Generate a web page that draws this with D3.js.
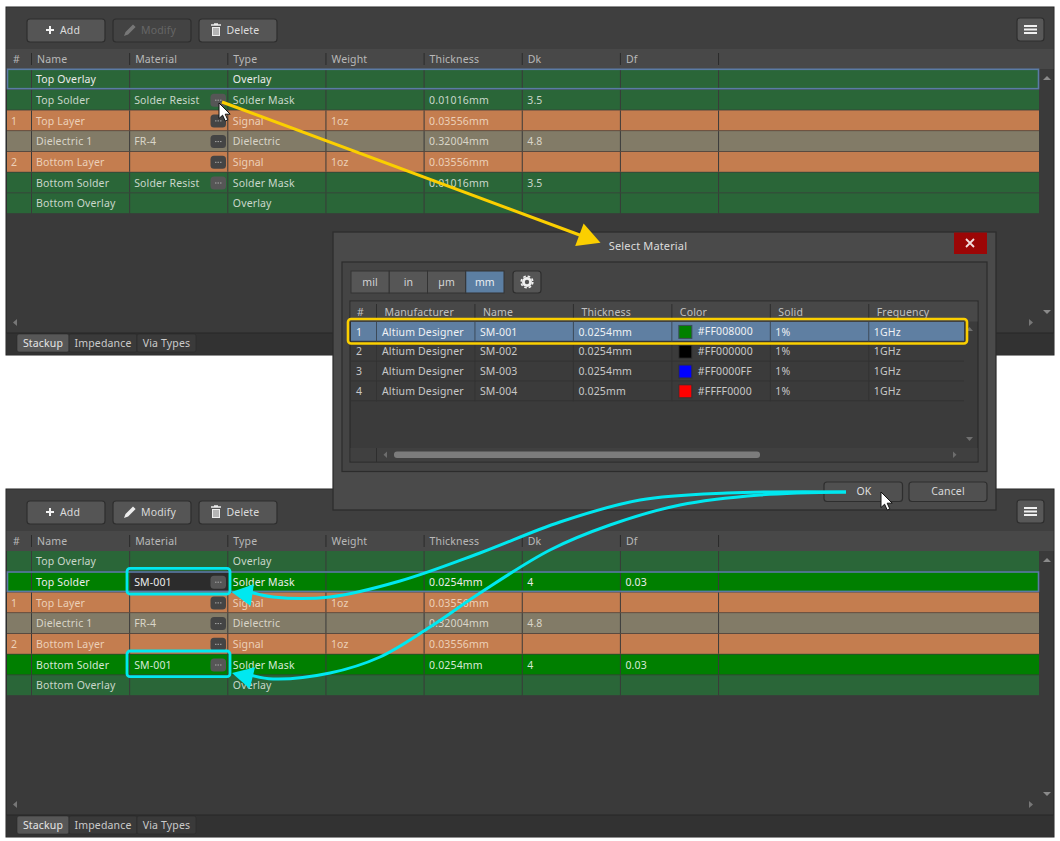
<!DOCTYPE html>
<html>
<head>
<meta charset="utf-8">
<script src="https://cdn.jsdelivr.net/npm/d3@7"></script>
<style>
  html, body { margin: 0; padding: 0; background: #fff; }
  svg { display: block; }
  text { font-family: "Noto Sans", "Open Sans", sans-serif; font-size: 10.5px; letter-spacing: 0.15px; }
</style>
</head>
<body>
<script>
var stackColumns = ['Name', 'Material', 'Type', 'Weight', 'Thickness', 'Dk', 'Df', ''];
var layerIndex = ['', '', '1', '', '2', '', ''];
var layerNames = ['Top Overlay', 'Top Solder', 'Top Layer', 'Dielectric 1', 'Bottom Layer', 'Bottom Solder', 'Bottom Overlay'];
var layerTypes = ['Overlay', 'Solder Mask', 'Signal', 'Dielectric', 'Signal', 'Solder Mask', 'Overlay'];
var layerWeights = ['', '', '1oz', '', '1oz', '', ''];

var materialBefore = ['', 'Solder Resist', '', 'FR-4', '', 'Solder Resist', ''];
var thicknessBefore = ['', '0.01016mm', '0.03556mm', '0.32004mm', '0.03556mm', '0.01016mm', ''];
var dkBefore = ['', '3.5', '', '4.8', '', '3.5', ''];
var dfBefore = ['', '', '', '', '', '', ''];

var materialAfter = ['', 'SM-001', '', 'FR-4', '', 'SM-001', ''];
var thicknessAfter = ['', '0.0254mm', '0.03556mm', '0.32004mm', '0.03556mm', '0.0254mm', ''];
var dkAfter = ['', '4', '', '4.8', '', '4', ''];
var dfAfter = ['', '0.03', '', '', '', '0.03', ''];

var unitButtons = ['mil', 'in', 'µm', 'mm'];
var tabNames = ['Stackup', 'Impedance', 'Via Types'];

var dialogColumns = ['Manufacturer', 'Name', 'Thickness', 'Color', 'Solid', 'Frequency'];
var smIndex = ['1', '2', '3', '4'];
var smMaker = ['Altium Designer', 'Altium Designer', 'Altium Designer', 'Altium Designer'];
var smNames = ['SM-001', 'SM-002', 'SM-003', 'SM-004'];
var smThickness = ['0.0254mm', '0.0254mm', '0.0254mm', '0.025mm'];
var smColors = ['#FF008000', '#FF000000', '#FF0000FF', '#FFFF0000'];
var smSolid = ['1%', '1%', '1%', '1%'];
var smFreq = ['1GHz', '1GHz', '1GHz', '1GHz'];

var screen = { width: 1060, height: 841 };

var svg = d3.select('body')
            .append('svg')
            .attr('width', screen.width)
            .attr('height', screen.height);

svg.append('rect').attr('width', screen.width).attr('height', screen.height).attr('fill', '#fff');

var xCol = d3.scaleBand().domain(stackColumns).range([31.5, 31.5 + 98.15 * 8]);
var yRow = d3.scaleBand().domain(layerNames).range([0, 144.2]).paddingInner(0.035).paddingOuter(0);

var rowFill = {
  'Overlay': '#2a6638',
  'Solder Mask': '#2a6638',
  'Signal': '#c47d4f',
  'Dielectric': '#827b67'
};
var rowText = {
  'Overlay': '#c9d6ca',
  'Solder Mask': '#c9d6ca',
  'Signal': '#ecd0b8',
  'Dielectric': '#d9d5c8'
};

function label(g, x, y, str, color, anchor, weight) {
  return g.append('text')
    .attr('x', x)
    .attr('y', y)
    .attr('dy', '0.36em')
    .attr('fill', color)
    .attr('text-anchor', anchor || 'start')
    .attr('font-weight', weight || 400)
    .text(str);
}

function button(g, x, y, w, h, fill) {
  return g.append('rect')
    .attr('x', x).attr('y', y).attr('width', w).attr('height', h)
    .attr('rx', 3)
    .attr('fill', fill)
    .attr('stroke', '#2e2e2e')
    .attr('stroke-width', 1.2);
}

function plusIcon(g, cx, cy) {
  g.append('path')
    .attr('d', 'M' + (cx - 4) + ',' + cy + 'H' + (cx + 4) + 'M' + cx + ',' + (cy - 4) + 'V' + (cy + 4))
    .attr('stroke', '#f2f2f2').attr('stroke-width', 2);
}

function pencilIcon(g, cx, cy, color) {
  g.append('path')
    .attr('d', 'M' + (cx - 6) + ',' + (cy + 6) + 'l1.5,-4l7.5,-7.5l2.6,2.6l-7.5,7.5z')
    .attr('fill', color);
}

function trashIcon(g, cx, cy) {
  g.append('path')
    .attr('d', 'M' + (cx - 4) + ',' + (cy - 3) + 'h8v9h-8z')
    .attr('fill', '#ededed');
  g.append('path')
    .attr('d', 'M' + (cx - 5) + ',' + (cy - 5) + 'h10M' + (cx - 2) + ',' + (cy - 6) + 'h4')
    .attr('stroke', '#ededed').attr('stroke-width', 1.3);
  g.append('path')
    .attr('d', 'M' + (cx - 2) + ',' + (cy - 2) + 'v7M' + cx + ',' + (cy - 2) + 'v7M' + (cx + 2) + ',' + (cy - 2) + 'v7')
    .attr('stroke', '#4f4f4f').attr('stroke-width', 0.7);
}

function drawPanel(top, conf) {
  var g = svg.append('g').attr('transform', 'translate(6,' + top + ')');
  var w = 1048, h = 348;
  var rowsTop = 62;

  g.append('rect').attr('width', w).attr('height', h).attr('fill', '#3a3a3a').attr('stroke', '#222').attr('stroke-width', 1);
  g.append('rect').attr('x', 0.5).attr('y', 0.5).attr('width', w - 1).attr('height', 42).attr('fill', '#3f3f3f');
  g.append('rect').attr('x', 0.5).attr('y', 42).attr('width', w - 1).attr('height', 20).attr('fill', '#484848');

  // toolbar
  button(g, 21, 12, 78, 23, '#555');
  plusIcon(g, 44, 23);
  label(g, 54, 23.5, 'Add', '#dcdcdc');
  button(g, 107, 12, 78, 23, conf.modify ? '#555' : '#434343');
  pencilIcon(g, 124, 23, conf.modify ? '#ededed' : '#777');
  label(g, 135, 23.5, 'Modify', conf.modify ? '#d8d8d8' : '#666');
  button(g, 193, 12, 78, 23, '#555');
  trashIcon(g, 210, 23);
  label(g, 220.5, 23.5, 'Delete', '#dcdcdc');
  button(g, 1011, 11, 27, 23, '#585858');
  g.append('path')
    .attr('d', 'M1018,19h13M1018,22.5h13M1018,26h13')
    .attr('stroke', '#f0f0f0').attr('stroke-width', 2);

  // header
  label(g, 7, 52, '#', '#b8b8b8');
  g.selectAll('path.sep')
    .data(stackColumns)
    .enter()
    .append('path')
    .attr('d', function(d) { return 'M' + (xCol(d) - 6) + ',46V58'; })
    .attr('stroke', '#2b2b2b');
  g.selectAll('text.head')
    .data(stackColumns)
    .enter()
    .append('text')
    .attr('x', function(d) { return xCol(d) - 0.5; })
    .attr('y', 52)
    .attr('dy', '0.36em')
    .attr('fill', '#b8b8b8')
    .text(function(d) { return d; });

  // rows
  layerNames.forEach(function(name, i) {
    var y = rowsTop + yRow(name);
    var rh = yRow.bandwidth();
    var type = layerTypes[i];
    var bright = conf.bright.indexOf(i) >= 0;
    var fill = bright ? '#007f00' : rowFill[type];
    var color = bright ? '#d6e8d6' : rowText[type];
    if (i == conf.selected) color = '#ececec';
    var row = g.append('g');

    row.append('rect').attr('x', 1).attr('y', y).attr('width', 1032).attr('height', rh).attr('fill', fill);

    stackColumns.forEach(function(c) {
      row.append('path')
        .attr('d', 'M' + (xCol(c) - 6) + ',' + y + 'v' + rh)
        .attr('stroke', '#3a3a3a').attr('stroke-width', 1);
    });

    if (i == conf.selected && conf.darkCell) {
      row.append('rect')
        .attr('x', xCol('Material') - 5.5).attr('y', y)
        .attr('width', xCol.bandwidth()).attr('height', rh)
        .attr('fill', '#2c2c2c');
    }

    var cy = y + rh / 2 + 0.5;
    label(row, 5, cy, layerIndex[i], color);
    label(row, xCol('Name') - 1.5, cy, name, color);
    label(row, xCol('Material') - 1.5, cy, conf.material[i], color);
    label(row, xCol('Type') - 1, cy, type, color);
    label(row, xCol('Weight') - 1, cy, layerWeights[i], color);
    label(row, xCol('Thickness') - 1, cy, conf.thickness[i], color);
    label(row, xCol('Dk') - 1, cy, conf.dk[i], color);
    label(row, xCol('Df') - 1, cy, conf.df[i], color);

    if (type != 'Overlay') {
      var dim = type == 'Solder Mask';
      row.append('rect')
        .attr('x', 204.5).attr('y', cy - 6.5)
        .attr('width', 15.5).attr('height', 13).attr('rx', 3.5)
        .attr('fill', dim ? '#565656' : '#444');
      row.append('path')
        .attr('d', 'M209,' + cy + 'h1.5M211.5,' + cy + 'h1.5M214,' + cy + 'h1.5')
        .attr('stroke', '#a8a8a8').attr('stroke-width', 1);
    }
  });

  // selected outline
  g.append('rect')
    .attr('x', 1.5)
    .attr('y', rowsTop + yRow(layerNames[conf.selected]) + 0.3)
    .attr('width', 1031)
    .attr('height', yRow.bandwidth() - 0.6)
    .attr('fill', 'none')
    .attr('stroke', '#5b7ba5')
    .attr('stroke-width', 1.6);

  // scrollbars
  g.append('path').attr('d', 'M1037,73l4,-4l4,4z').attr('fill', '#8a8a8a');
  g.append('path').attr('d', 'M1037,303l4,4l4,-4z').attr('fill', '#8a8a8a');
  g.append('path').attr('d', 'M11,319l-4,-3.5l4,-3.5z').attr('fill', '#777');
  g.append('path').attr('d', 'M1023,319l4,-3.5l-4,-3.5z').attr('fill', '#777');

  // tabs
  g.append('rect').attr('x', 0.5).attr('y', 326).attr('width', w - 1).attr('height', 21.5).attr('fill', '#323232');
  g.append('path').attr('d', 'M0.5,326H' + (w - 0.5)).attr('stroke', '#262626');
  var tabX = [11, 63, 131, 190];
  tabNames.forEach(function(t, i) {
    g.append('rect')
      .attr('x', tabX[i]).attr('y', 327)
      .attr('width', tabX[i + 1] - tabX[i]).attr('height', 18)
      .attr('rx', 2)
      .attr('fill', i == 0 ? '#575757' : '#3a3a3a')
      .attr('stroke', '#2a2a2a').attr('stroke-width', 0.6);
    label(g, (tabX[i] + tabX[i + 1]) / 2, 336.5, t, i == 0 ? '#e6e6e6' : '#cacaca', 'middle');
  });
}

function drawDialog() {
  var g = svg.append('g');
  g.append('rect').attr('x', 333).attr('y', 232).attr('width', 663).attr('height', 278)
    .attr('fill', '#4a4a4a').attr('stroke', '#2b2b2b').attr('stroke-width', 1.2);
  g.append('rect').attr('x', 954).attr('y', 232.5).attr('width', 33).attr('height', 21.5).attr('fill', '#9c0606');
  g.append('path').attr('d', 'M966,239l8,8M974,239l-8,8').attr('stroke', '#f3dede').attr('stroke-width', 1.8);
  label(g, 648, 246.5, 'Select Material', '#dcdcdc', 'middle').style('font-size', '11px');

  g.append('rect').attr('x', 342).attr('y', 262).attr('width', 645).attr('height', 209.5)
    .attr('fill', '#444').attr('stroke', '#2c2c2c').attr('stroke-width', 1.2);

  var xUnit = d3.scaleBand().domain(unitButtons).range([351, 504]);
  unitButtons.forEach(function(u) {
    var on = u == 'mm';
    g.append('rect')
      .attr('x', xUnit(u)).attr('y', 271)
      .attr('width', xUnit.bandwidth()).attr('height', 22)
      .attr('fill', on ? '#5c7fa3' : '#565656')
      .attr('stroke', '#333').attr('stroke-width', 1);
    label(g, xUnit(u) + xUnit.bandwidth() / 2, 282.5, u, on ? '#e8edf2' : '#d4d4d4', 'middle');
  });
  button(g, 513, 271, 28, 22, '#555');
  g.append('circle').attr('cx', 527).attr('cy', 282).attr('r', 5).attr('fill', '#f0f0f0');
  g.append('circle').attr('cx', 527).attr('cy', 282).attr('r', 5.8)
    .attr('fill', 'none').attr('stroke', '#f0f0f0').attr('stroke-width', 1.6).attr('stroke-dasharray', '2.6 1.95');
  g.append('circle').attr('cx', 527).attr('cy', 282).attr('r', 2.2).attr('fill', '#555');

  // table
  g.append('rect').attr('x', 350).attr('y', 301).attr('width', 628).attr('height', 161)
    .attr('fill', '#3b3b3b').attr('stroke', '#2b2b2b').attr('stroke-width', 1.2);
  g.append('rect').attr('x', 350.5).attr('y', 301.5).attr('width', 627).attr('height', 20).attr('fill', '#484848');

  var xDlg = d3.scaleBand().domain(dialogColumns).range([376.5, 376.5 + 98.45 * 6]);
  var yDlg = d3.scaleBand().domain(smIndex).range([322, 401.2]);

  label(g, 357, 312, '#', '#c0c0c0');
  g.append('path').attr('d', 'M376.5,304V320').attr('stroke', '#2e2e2e');
  dialogColumns.forEach(function(c) {
    g.append('path').attr('d', 'M' + xDlg(c) + ',304V320').attr('stroke', '#2e2e2e');
    label(g, xDlg(c) + 8, 312, c, '#c0c0c0');
  });

  smIndex.forEach(function(d, i) {
    var y = yDlg(d), rh = yDlg.bandwidth();
    var on = i == 0;
    var color = on ? '#eef1f5' : '#c8c8c8';
    if (on) {
      g.append('rect').attr('x', 351).attr('y', y).attr('width', 613).attr('height', rh - 0.5).attr('fill', '#5f7fa2');
    }
    g.append('path').attr('d', 'M351,' + (y + rh - 0.5) + 'H964').attr('stroke', '#333');
    ['M376.5'].concat(dialogColumns.map(function(c) { return 'M' + xDlg(c); })).forEach(function(m) {
      g.append('path').attr('d', m + ',' + y + 'v' + rh).attr('stroke', on ? '#3c4a59' : '#333');
    });
    var cy = y + rh / 2;
    label(g, 356, cy, d, color);
    label(g, xDlg('Manufacturer') + 5.5, cy, smMaker[i], color);
    label(g, xDlg('Name') + 5, cy, smNames[i], color);
    label(g, xDlg('Thickness') + 5, cy, smThickness[i], color);
    g.append('rect')
      .attr('x', xDlg('Color') + 7).attr('y', cy - 6.5)
      .attr('width', 13).attr('height', 13)
      .attr('fill', '#' + smColors[i].slice(3))
      .attr('stroke', on ? '#3c4a59' : '#333');
    label(g, xDlg('Color') + 26, cy - 0.5, smColors[i], color);
    label(g, xDlg('Solid') + 5, cy, smSolid[i], color);
    label(g, xDlg('Frequency') + 5, cy, smFreq[i], color);
  });

  // dialog scrollbars
  g.append('rect').attr('x', 350.5).attr('y', 448).attr('width', 627).attr('height', 13.5).attr('fill', '#404040');
  g.append('path').attr('d', 'M376.5,448V462').attr('stroke', '#2e2e2e');
  g.append('rect').attr('x', 394).attr('y', 451.5).attr('width', 366).attr('height', 6.5).attr('rx', 3).attr('fill', '#7c7c7c');
  g.append('path').attr('d', 'M387,451.5l-3.5,3.2l3.5,3.2z').attr('fill', '#6d6d6d');
  g.append('path').attr('d', 'M953,451.5l3.5,3.2l-3.5,3.2z').attr('fill', '#6d6d6d');
  g.append('path').attr('d', 'M966,331l3.5,-4l3.5,4z').attr('fill', '#6f6f6f');
  g.append('path').attr('d', 'M966,437l3.5,4l3.5,-4z').attr('fill', '#6f6f6f');

  button(g, 824, 482, 78.5, 19.5, '#505050');
  label(g, 864, 491.5, 'OK', '#dedede', 'middle');
  button(g, 909, 482, 78, 19.5, '#505050');
  label(g, 948, 491.5, 'Cancel', '#d8d8d8', 'middle');

  // yellow highlight around the first material
  g.append('rect').attr('x', 348).attr('y', 319).attr('width', 619).attr('height', 24.5).attr('rx', 3)
    .attr('fill', 'none').attr('stroke', '#fbcf00').attr('stroke-width', 2.6);
}

function arrowHead(tip, from, len, half) {
  var dx = tip[0] - from[0], dy = tip[1] - from[1];
  var d = Math.sqrt(dx * dx + dy * dy);
  var ux = dx / d, uy = dy / d;
  var bx = tip[0] - ux * len, by = tip[1] - uy * len;
  return 'M' + tip[0] + ',' + tip[1] +
         'L' + (bx - uy * half) + ',' + (by + ux * half) +
         'L' + (bx + uy * half) + ',' + (by - ux * half) + 'Z';
}

function cursor(x, y) {
  svg.append('path')
    .attr('transform', 'translate(' + x + ',' + y + ')')
    .attr('d', 'M0,0V15.5L3.6,12.2L6.2,18L8.8,16.8L6.2,11.2H11.2Z')
    .attr('fill', '#fff')
    .attr('stroke', '#111')
    .attr('stroke-width', 1);
}

drawPanel(7, {
  material: materialBefore, thickness: thicknessBefore, dk: dkBefore, df: dfBefore,
  selected: 0, bright: [], modify: false, darkCell: false
});
drawPanel(489, {
  material: materialAfter, thickness: thicknessAfter, dk: dkAfter, df: dfAfter,
  selected: 1, bright: [1, 5], modify: true, darkCell: true
});
drawDialog();

// callouts
var yellowLine = [[222, 102], [585, 237]];
var yellowTip = [600.5, 242.7];
svg.append('path')
  .attr('d', d3.line()(yellowLine))
  .attr('stroke', '#fbcf00').attr('stroke-width', 3.2).attr('fill', 'none');
svg.append('path').attr('d', arrowHead(yellowTip, yellowLine[0], 22.5, 12)).attr('fill', '#fbcf00');

[
  { row: 1, box: [127, 568.3, 103, 25.7] },
  { row: 5, box: [127, 651, 103, 25.7] }
].forEach(function(b) {
  svg.append('rect')
    .attr('x', b.box[0]).attr('y', b.box[1]).attr('width', b.box[2]).attr('height', b.box[3]).attr('rx', 3)
    .attr('fill', 'none').attr('stroke', '#00e8f0').attr('stroke-width', 2.8);
});

var cyanCurve = d3.line().curve(d3.curveCatmullRom.alpha(0.5));
var cyanFirst = [[846, 492], [727, 493], [640, 500], [560, 522], [480, 553], [400, 581], [330, 597], [273, 597], [250, 592]];
var cyanSecond = [[846, 492], [760, 495], [680, 505], [610, 525], [550, 550], [480, 593], [430, 627], [380, 657], [330, 673], [273, 679], [250, 675]];
[cyanFirst, cyanSecond].forEach(function(pts) {
  svg.append('path')
    .attr('d', cyanCurve(pts))
    .attr('stroke', '#00e8f0').attr('stroke-width', 3).attr('fill', 'none');
});
svg.append('path').attr('d', arrowHead([231.5, 592], [252, 595], 21, 11)).attr('fill', '#00e8f0');
svg.append('path').attr('d', arrowHead([232, 673], [252.5, 678], 21, 11)).attr('fill', '#00e8f0');

cursor(219, 103);
cursor(881, 492);
</script>
</body>
</html>
